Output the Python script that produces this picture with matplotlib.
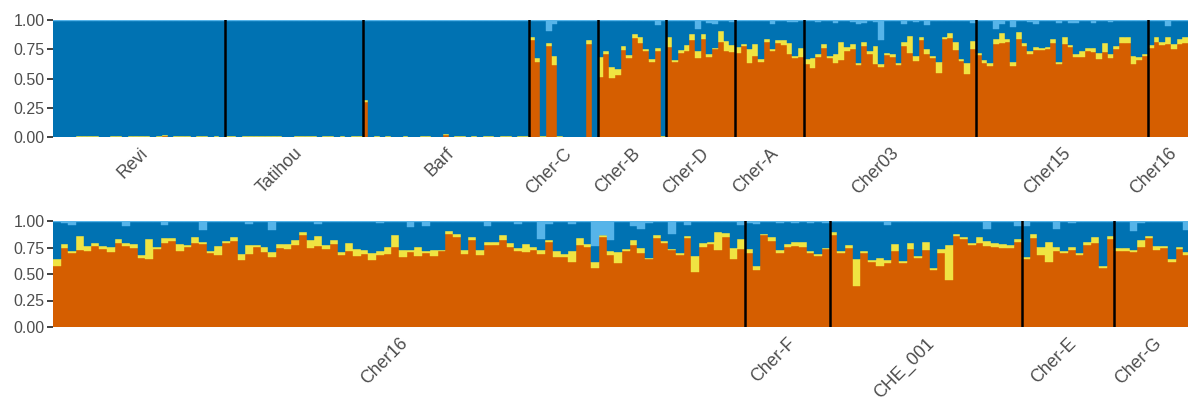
import numpy as np
import matplotlib
matplotlib.use('Agg')
import matplotlib.pyplot as plt

# Ancestry proportions (K=4) per individual
# colours: orange (bottom), yellow, dark blue (remainder), light blue (top)

# ---- top row ----
top_pops = ['Revi', 'Tatihou', 'Barf', 'Cher-C', 'Cher-B', 'Cher-D', 'Cher-A', 'Cher03', 'Cher15', 'Cher16']
top_sizes = [30, 24, 29, 12, 12, 12, 12, 30, 30, 7]

top_orange = (
    [0] * 19 + [0.01] + [0] * 10 +                                   # Revi
    [0] * 24 +                                                       # Tatihou
    [0.30] + [0] * 13 + [0.02] + [0] * 14 +                          # Barf
    [0.83, 0.64, 0, 0.78, 0.615, 0, 0, 0, 0, 0, 0.795, 0] +          # Cher-C
    [0.513, 0.709, 0.504, 0.53, 0.744, 0.675, 0.846, 0.803, 0.735, 0.64, 0.735, 0] +   # Cher-B
    [0.77, 0.64, 0.718, 0.735, 0.83, 0.675, 0.838, 0.684, 0.752, 0.81, 0.735, 0.727] +  # Cher-D
    [0.718, 0.78, 0.632, 0.692, 0.64, 0.81, 0.735, 0.803, 0.786, 0.709, 0.675, 0.684] + # Cher-A
    [0.624, 0.59, 0.684, 0.76, 0.675, 0.632, 0.658, 0.735, 0.752, 0.615, 0.778, 0.709, 0.624, 0.598, 0.70,
     0.684, 0.615, 0.778, 0.718, 0.65, 0.83, 0.709, 0.675, 0.547, 0.838, 0.846, 0.744, 0.65, 0.538, 0.752] +  # Cher03
    [0.70, 0.632, 0.607, 0.795, 0.803, 0.812, 0.607, 0.838, 0.778, 0.709, 0.744, 0.744, 0.752, 0.803, 0.624,
     0.795, 0.77, 0.684, 0.684, 0.735, 0.726, 0.667, 0.726, 0.675, 0.752, 0.803, 0.803, 0.624, 0.658, 0.692] + # Cher15
    [0.76, 0.81, 0.786, 0.795, 0.752, 0.795, 0.803]                  # Cher16
)

top_yellow = (
    [0, 0, 0, 0, .008, .008, .008, .008, 0, 0, .008, .008, 0, .008, .008, .008, .008, 0, .008, .008,
     0, .008, .008, .008, 0, .008, .008, 0, .008, 0] +
    [.008, .008, 0, .008, .008, .008, .008, .008, .008, .008, 0, 0, .008, .008, .008, .008, 0, .008, .008, 0,
     .008, 0, .008, .008] +
    [.02, 0, .008, 0, .008, 0, 0, .008, 0, 0, .008, .008, 0, 0, .006, 0, .008, .008, 0, .008, 0, .008, .008, 0,
     .008, .008, 0, .008, .008] +
    [0.025, 0.035, 0.01, 0.02, 0.075, 0.01, 0, 0, 0, 0, 0.035, 0] +
    [0.171, 0.026, 0.094, 0.05, 0.034, 0.025, 0.034, 0.052, 0.017, 0.027, 0.025, 0.01] +
    [0.085, 0.02, 0.026, 0.051, 0.05, 0.06, 0.042, 0.026, 0.008, 0.095, 0.085, 0.059] +
    [0.052, 0.015, 0.12, 0.103, 0.027, 0.028, 0.017, 0.027, 0.044, 0.091, 0.015, 0.076] +
    [0.043, 0.085, 0.025, 0.035, 0.017, 0.077, 0.154, 0.035, 0.043, 0.017, 0.034, 0.026, 0.154, 0.026, 0.018,
     0.025, 0.017, 0.034, 0.145, 0.042, 0.025, 0.043, 0.017, 0.094, 0.017, 0.043, 0.068, 0.017, 0.094, 0.068] +
    [0.018, 0.026, 0.025, 0.043, 0.086, 0.026, 0.034, 0.059, 0.025, 0.026, 0.026, 0.016, 0.018, 0.035, 0.017,
     0.06, 0.016, 0.025, 0.051, 0.025, 0.034, 0.051, 0.077, 0.034, 0.026, 0.052, 0.052, 0.068, 0.026, 0.017] +
    [0.026, 0.045, 0.026, 0.06, 0.043, 0.043, 0.052]
)

top_ltblue = (
    [0.008] * 83 +
    [0.01, 0.01, 0.01, 0.09, 0.035, 0.01, 0.01, 0.01, 0.01, 0.01, 0.01, 0.01] +
    [0.01] * 10 + [0.04, 0.01] +
    [0.005, 0.005, 0.005, 0.005, 0.005, 0.077, 0.005, 0.026, 0.03, 0.005, 0.005, 0.017] +
    [0.005] * 6 + [0.034, 0.005, 0.005, 0.017, 0.017, 0.005] +
    [0.008, 0.008, 0.017, 0.008, 0.008, 0.026, 0.008, 0.008, 0.017, 0.034, 0.026, 0.008, 0.017, 0.17, 0.008,
     0.008, 0.008, 0.034, 0.008, 0.017, 0.008, 0.043, 0.008, 0.008, 0.008, 0.008, 0.008, 0.008, 0.008, 0.026] +
    [0.008, 0.008, 0.008, 0.077, 0.034, 0.008, 0.06, 0.008, 0.008, 0.017, 0.034, 0.008, 0.008, 0.008, 0.026,
     0.008, 0.026, 0.026, 0.008, 0.008, 0.026, 0.008, 0.008, 0.017, 0.008, 0.008, 0.008, 0.008, 0.008, 0.008] +
    [0.008, 0.008, 0.008, 0.05, 0.008, 0.008, 0.008]
)

# ---- bottom row ----
bot_pops = ['Cher16', 'Cher-F', 'CHE_001', 'Cher-E', 'Cher-G']
bot_sizes = [90, 11, 25, 12, 10]

bot_orange = (
    [0.575, 0.745, 0.698, 0.726, 0.717, 0.764, 0.736, 0.708, 0.792, 0.764, 0.745, 0.651, 0.642, 0.736, 0.792,
     0.811, 0.717, 0.755, 0.792, 0.783, 0.698, 0.679, 0.792, 0.811, 0.632, 0.689, 0.755, 0.708, 0.66, 0.745,
     0.736, 0.774, 0.868, 0.745, 0.764, 0.736, 0.783, 0.679, 0.717, 0.67, 0.689, 0.632, 0.679, 0.689, 0.755,
     0.66, 0.708, 0.67, 0.698, 0.67, 0.717, 0.877, 0.849, 0.689, 0.821, 0.679, 0.774, 0.774, 0.821, 0.755,
     0.717, 0.708, 0.726, 0.689, 0.802, 0.66, 0.66, 0.613, 0.774, 0.755, 0.557, 0.849, 0.679, 0.604, 0.717,
     0.774, 0.698, 0.642, 0.84, 0.792, 0.726, 0.679, 0.84, 0.519, 0.755, 0.783, 0.726, 0.849, 0.642, 0.736] +
    [0.698, 0.538, 0.868, 0.811, 0.698, 0.755, 0.764, 0.755, 0.698, 0.67, 0.736] +
    [0.868, 0.698, 0.745, 0.387, 0.698, 0.613, 0.575, 0.604, 0.717, 0.604, 0.736, 0.651, 0.726, 0.538, 0.698,
     0.443, 0.858, 0.83, 0.774, 0.792, 0.764, 0.755, 0.745, 0.745, 0.802] +
    [0.642, 0.84, 0.679, 0.613, 0.717, 0.698, 0.726, 0.679, 0.774, 0.792, 0.557, 0.83] +
    [0.717, 0.717, 0.708, 0.755, 0.84, 0.726, 0.745, 0.613, 0.736, 0.679]
)

bot_yellow = (
    [0.065, 0.038, 0.019, 0.132, 0.047, 0.028, 0.028, 0.047, 0.038, 0.028, 0.038, 0.028, 0.188, 0.019, 0.048,
     0.029, 0.066, 0.019, 0.057, 0.019, 0.019, 0.085, 0.019, 0.038, 0.057, 0.085, 0.019, 0.047, 0.048, 0.038,
     0.047, 0.047, 0.028, 0.076, 0.094, 0.038, 0.038, 0.029, 0.075, 0.066, 0.037, 0.066, 0.038, 0.066, 0.113,
     0.066, 0.018, 0.085, 0.019, 0.056, 0.009, 0.029, 0.028, 0.037, 0.028, 0.047, 0.028, 0.028, 0.047, 0.037,
     0.028, 0.075, 0.029, 0.037, 0.019, 0.057, 0.029, 0.104, 0.066, 0.028, 0.056, 0.019, 0.038, 0.104, 0.019,
     0.047, 0.047, 0.009, 0.028, 0.019, 0.01, 0.019, 0.018, 0.151, 0.037, 0.019, 0.17, 0.038, 0.103, 0.094] +
    [0.038, 0.037, 0.009, 0.038, 0.028, 0.028, 0.038, 0.047, 0.019, 0.019, 0.009] +
    [0.028, 0.019, 0.029, 0.255, 0.019, 0.019, 0.076, 0.028, 0.066, 0.019, 0.056, 0.019, 0.076, 0.019, 0.038,
     0.331, 0.019, 0.019, 0.018, 0.057, 0.047, 0.037, 0.038, 0.029, 0.028] +
    [0.018, 0.037, 0.076, 0.189, 0.038, 0.019, 0.029, 0.019, 0.028, 0.057, 0.018, 0.028] +
    [0.028, 0.028, 0.018, 0.066, 0.018, 0.038, 0.019, 0.029, 0.019, 0.029]
)

bot_ltblue = (
    [0.008, 0.016, 0.038, 0.008, 0.008, 0.008, 0.008, 0.008, 0.008, 0.047, 0.008, 0.008, 0.008, 0.008, 0.038,
     0.008, 0.008, 0.008, 0.008, 0.085, 0.008, 0.008, 0.008, 0.008, 0.008, 0.028, 0.008, 0.008, 0.085, 0.008,
     0.008, 0.008, 0.008, 0.008, 0.028, 0.008, 0.008, 0.008, 0.008, 0.008, 0.008, 0.008, 0.019, 0.008, 0.008,
     0.008, 0.057, 0.008, 0.047, 0.008, 0.008, 0.008, 0.008, 0.008, 0.008, 0.008, 0.047, 0.008, 0.008, 0.008,
     0.028, 0.008, 0.008, 0.17, 0.028, 0.008, 0.008, 0.028, 0.008, 0.008, 0.236, 0.13, 0.18, 0.008, 0.008,
     0.047, 0.075, 0.019, 0.008, 0.008, 0.12, 0.008, 0.038, 0.008, 0.008, 0.008, 0.008, 0.008, 0.008, 0.038] +
    [0.02, 0.03, 0.01, 0.01, 0.015, 0.01, 0.015, 0.01, 0.015, 0.01, 0.015] +
    [0.01] * 7 + [0.038] + [0.01] * 12 + [0.075, 0.01, 0.01, 0.01, 0.047] +
    [0.047, 0.01, 0.01, 0.01, 0.075, 0.01, 0.02, 0.01, 0.01, 0.01, 0.01, 0.01] +
    [0.01, 0.01, 0.094, 0.02, 0.01, 0.01, 0.01, 0.01, 0.01, 0.085]
)

col_orange = '#D55E00'
col_yellow = '#F0E442'
col_blue = '#0072B2'
col_ltblue = '#56B4E9'
text_col = '#4D4D4D'


def draw_panel(ax, pops, sizes, orange, yellow, ltblue, xmax):
    orange = np.array(orange)
    yellow = np.array(yellow)
    ltblue = np.array(ltblue)
    blue = 1 - orange - yellow - ltblue
    x = np.arange(len(orange))
    bottom = np.zeros(len(orange))
    for vals, c in [(orange, col_orange), (yellow, col_yellow), (blue, col_blue), (ltblue, col_ltblue)]:
        ax.bar(x, vals, bottom=bottom, width=1, align='edge', color=c, edgecolor=c, linewidth=0.3)
        bottom = bottom + vals

    # population separators and labels
    edges = np.cumsum([0] + sizes)
    for e in edges[1:-1]:
        ax.axvline(e, color='black', lw=1.8)
    for name, a, b in zip(pops, edges[:-1], edges[1:]):
        ax.annotate(name, xy=((a + b) / 2, 0), xycoords=('data', 'axes fraction'),
                    xytext=(0, -8), textcoords='offset pixels',
                    rotation=45, rotation_mode='anchor', ha='right', va='top',
                    fontsize=12.8, color=text_col, family='Liberation Sans')

    ax.set_xlim(0, xmax)
    ax.set_ylim(0, 1)
    ax.set_yticks([0, 0.25, 0.5, 0.75, 1.0])
    ax.set_yticklabels(['0.00', '0.25', '0.50', '0.75', '1.00'], family='Liberation Sans')
    ax.set_xticks([])
    ax.tick_params(axis='y', length=4, width=1.3, color='#333333', labelcolor=text_col,
                   labelsize=11.5, pad=2)
    for s in ax.spines.values():
        s.set_visible(False)


fig = plt.figure(figsize=(11.88, 4.05), dpi=100)
ax_top = fig.add_axes([53 / 1188, 1 - 137 / 405, 1135 / 1188, 117 / 405])
ax_bot = fig.add_axes([53 / 1188, 1 - 327 / 405, 1135 / 1188, 106 / 405])

draw_panel(ax_top, top_pops, top_sizes, top_orange, top_yellow, top_ltblue, sum(top_sizes))
draw_panel(ax_bot, bot_pops, bot_sizes, bot_orange, bot_yellow, bot_ltblue, 1135 / 7.69)

fig.savefig('out.png', dpi=100)
